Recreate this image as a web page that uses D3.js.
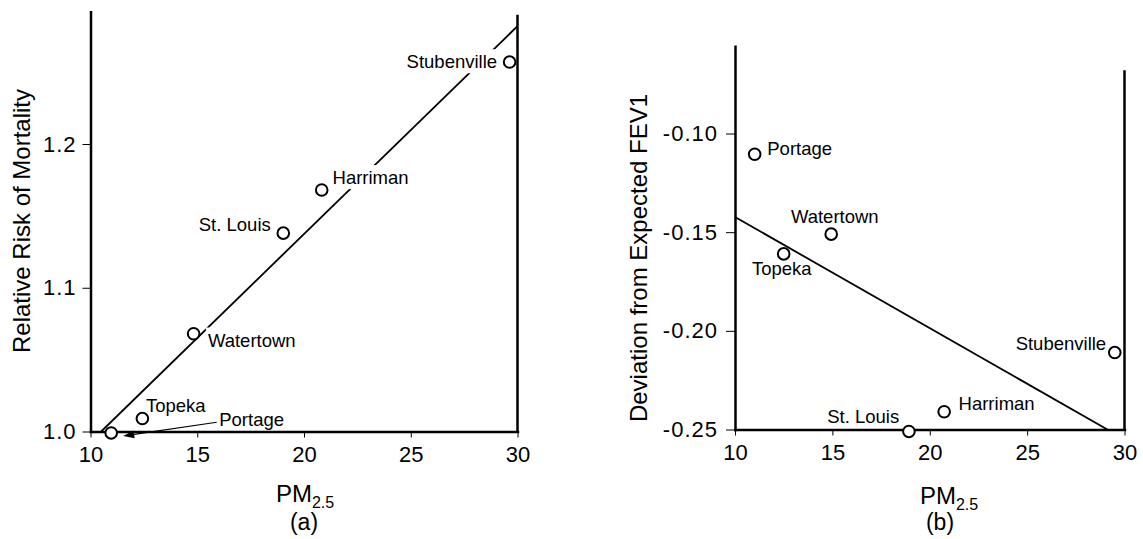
<!DOCTYPE html>
<html>
<head>
<meta charset="utf-8">
<script src="https://cdn.jsdelivr.net/npm/d3@7"></script>
<style>
  body { margin: 0; background: #fff; }
  svg text { font-family: "Liberation Sans", Arial, Helvetica, sans-serif; fill: #000; }
</style>
</head>
<body>
<svg id="chart" width="1143" height="539"></svg>
<script>
// values
var cities = ["Portage", "Topeka", "Watertown", "St. Louis", "Harriman", "Stubenville"];

// (a) mortality
var pmA = [10.97, 12.43, 14.83, 19.03, 20.83, 29.63];
var riskA = [0.999, 1.009, 1.068, 1.138, 1.168, 1.257];
var fitXA = [10.5, 30];
var fitYA = [1.0, 1.282];
var yTicksA = [1.0, 1.1, 1.2];

// (b) lung function
var pmB = [11.01, 12.5, 14.94, 18.93, 20.74, 29.5];
var fevB = [-0.1105, -0.161, -0.151, -0.251, -0.241, -0.211];
var fitXB = [10, 29.12];
var fitYB = [-0.1423, -0.25];
var yTicksB = [-0.10, -0.15, -0.20, -0.25];

var xTicks = [10, 15, 20, 25, 30];

// label placement (pixels from the point): [dx, dy, anchor]
var offA = [[108, -6.5, "start"], [3.6, -6.2, "start"], [14.3, 12.8, "start"],
            [-12.5, -2.4, "end"], [10.8, -5.9, "start"], [-12.5, 6.2, "end"]];
var offB = [[12.6, 0.7, "start"], [-31.7, 20.7, "start"], [-40.3, -11, "start"],
            [-9.7, -8.3, "end"], [14.4, -1.7, "start"], [-8.6, -2.4, "end"]];

var svg = d3.select("#chart");

function panel(opt) {
  var g = svg.append("g");
  var x = d3.scaleLinear().domain([10, 30]).range(opt.xr);
  var y = d3.scaleLinear().domain(opt.yd).range(opt.yr);

  // fit line
  g.append("line")
    .attr("x1", x(opt.fitX[0])).attr("y1", y(opt.fitY[0]))
    .attr("x2", x(opt.fitX[1])).attr("y2", y(opt.fitY[1]))
    .attr("stroke", "#000").attr("stroke-width", 1.8);

  // labels (white box behind, hides the line like the original)
  var lab = g.append("g");
  opt.pm.forEach(function(v, i) {
    var o = opt.off[i];
    var t = lab.append("text")
      .attr("x", x(v) + o[0]).attr("y", y(opt.val[i]) + o[1])
      .attr("text-anchor", o[2])
      .style("font-size", "18.5px")
      .text(cities[i]);
    if (opt.bg) {
      var b = t.node().getBBox();
      lab.insert("rect", "text")
        .attr("x", b.x - 2).attr("y", b.y - 2)
        .attr("width", b.width + 4).attr("height", b.height + 3)
        .attr("fill", "#fff");
    }
  });

  // right frame line
  g.append("line")
    .attr("x1", x(30)).attr("x2", x(30))
    .attr("y1", y(opt.yd[0])).attr("y2", y(opt.rightTop))
    .attr("stroke", "#000").attr("stroke-width", 2.5);

  var ya = g.append("g")
    .attr("transform", "translate(" + opt.xr[0] + ",0)")
    .call(d3.axisLeft(y).tickValues(opt.yTicks).tickSize(opt.ytick).tickPadding(opt.ypad)
      .tickSizeOuter(0).tickFormat(function(d) { return d.toFixed(opt.dec); }));
  var xa = g.append("g")
    .attr("transform", "translate(0," + opt.yr[0] + ")")
    .call(d3.axisBottom(x).tickValues(xTicks).tickSize(6).tickPadding(9).tickSizeOuter(0));

  [ya, xa].forEach(function(a) {
    a.select(".domain").attr("stroke", "#000").attr("stroke-width", 2.5).attr("stroke-linecap", "square");
    a.selectAll(".tick line").attr("stroke", "#000").attr("stroke-width", 1);
    a.selectAll(".tick text").style("font-size", "22px").attr("fill", "#000")
      .style("font-family", "'Liberation Sans', Arial, sans-serif");
  });
  ya.selectAll(".tick text").style("letter-spacing", "1px");

  // points
  g.selectAll("circle.pt")
    .data(opt.pm)
    .enter()
    .append("circle")
    .attr("class", "pt")
    .attr("cx", function(d) { return x(d); })
    .attr("cy", function(d, i) { return y(opt.val[i]); })
    .attr("r", 5.8)
    .attr("fill", "#fff")
    .attr("stroke", "#000")
    .attr("stroke-width", 2);

  // axis titles
  g.append("text")
    .attr("transform", "translate(" + opt.titleX + "," + opt.titleY + ") rotate(-90)")
    .attr("text-anchor", "middle")
    .style("font-size", "24px")
    .text(opt.title);

  var pm = g.append("text")
    .attr("x", opt.pmX).attr("y", opt.pmY)
    .attr("text-anchor", "middle")
    .style("font-size", "24px");
  pm.append("tspan").text("PM");
  pm.append("tspan").attr("dy", 6).style("font-size", "16px").text("2.5");

  g.append("text")
    .attr("x", opt.capX).attr("y", 530)
    .attr("text-anchor", "middle")
    .style("font-size", "23px")
    .text(opt.cap);

  return {g: g, x: x, y: y};
}

var a = panel({
  xr: [90.5, 517.5], yd: [1.0, 1.292], yr: [431.5, 11.75],
  pm: pmA, val: riskA, off: offA, bg: true,
  fitX: fitXA, fitY: fitYA, rightTop: 1.29,
  yTicks: yTicksA, dec: 1, ytick: 8, ypad: 6,
  title: "Relative Risk of Mortality", titleX: 30, titleY: 221,
  pmX: 305, pmY: 502, capX: 304, cap: "(a)"
});

var b = panel({
  xr: [735, 1124.5], yd: [-0.25, -0.0558], yr: [429.5, 46.3],
  pm: pmB, val: fevB, off: offB, bg: false,
  fitX: fitXB, fitY: fitYB, rightTop: -0.068,
  yTicks: yTicksB, dec: 2, ytick: 9, ypad: 8,
  title: "Deviation from Expected FEV1", titleX: 647, titleY: 258,
  pmX: 949, pmY: 504, capX: 940, cap: "(b)"
});

// Portage arrow in (a)
var px = a.x(pmA[0]), py = a.y(riskA[0]);
var tail = [px + 105.5, py - 10.7], tip = [px + 12, py + 3];
var ang = Math.atan2(tip[1] - tail[1], tip[0] - tail[0]);
var hl = 11, hw = 4;
var base = [tip[0] - hl * Math.cos(ang), tip[1] - hl * Math.sin(ang)];
a.g.append("line")
  .attr("x1", tail[0]).attr("y1", tail[1])
  .attr("x2", base[0]).attr("y2", base[1])
  .attr("stroke", "#000").attr("stroke-width", 1.2);
a.g.append("path")
  .attr("d", d3.line()([
    tip,
    [base[0] + hw * Math.sin(ang), base[1] - hw * Math.cos(ang)],
    [base[0] - hw * Math.sin(ang), base[1] + hw * Math.cos(ang)]
  ]) + "Z")
  .attr("fill", "#000");
</script>
</body>
</html>
